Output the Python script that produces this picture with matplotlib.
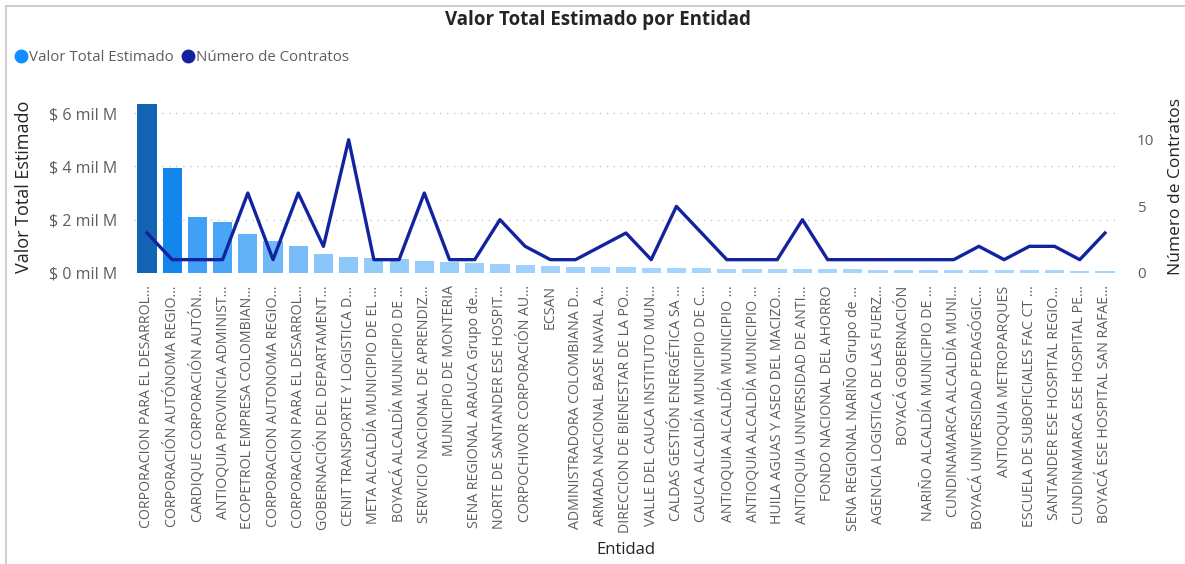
import numpy as np
import matplotlib
matplotlib.use("Agg")
import matplotlib.pyplot as plt
from matplotlib.colors import LinearSegmentedColormap, Normalize
from matplotlib.lines import Line2D

plt.rcParams['font.family'] = ['Open Sans', 'DejaVu Sans']

entidades = [
    "CORPORACION PARA EL DESARROL...",
    "CORPORACIÓN AUTÓNOMA REGIO...",
    "CARDIQUE CORPORACIÓN AUTÓN...",
    "ANTIOQUIA PROVINCIA ADMINIST...",
    "ECOPETROL EMPRESA COLOMBIAN...",
    "CORPORACION AUTONOMA REGIO...",
    "CORPORACION PARA EL DESARROL...",
    "GOBERNACIÓN DEL DEPARTAMENT...",
    "CENIT TRANSPORTE Y LOGISTICA D...",
    "META ALCALDÍA MUNICIPIO DE EL ...",
    "BOYACÁ ALCALDÍA MUNICIPIO DE ...",
    "SERVICIO NACIONAL DE APRENDIZ...",
    "MUNICIPIO DE MONTERIA",
    "SENA REGIONAL ARAUCA Grupo de...",
    "NORTE DE SANTANDER ESE HOSPIT...",
    "CORPOCHIVOR CORPORACIÓN AU...",
    "ECSAN",
    "ADMINISTRADORA COLOMBIANA D...",
    "ARMADA NACIONAL BASE NAVAL A...",
    "DIRECCION DE BIENESTAR DE LA PO...",
    "VALLE DEL CAUCA INSTITUTO MUN...",
    "CALDAS GESTIÓN ENERGÉTICA SA ...",
    "CAUCA ALCALDÍA MUNICIPIO DE C...",
    "ANTIOQUIA ALCALDÍA MUNICIPIO ...",
    "ANTIOQUIA ALCALDÍA MUNICIPIO ...",
    "HUILA AGUAS Y ASEO DEL MACIZO...",
    "ANTIOQUIA UNIVERSIDAD DE ANTI...",
    "FONDO NACIONAL DEL AHORRO",
    "SENA REGIONAL NARIÑO Grupo de ...",
    "AGENCIA LOGISTICA DE LAS FUERZ...",
    "BOYACÁ GOBERNACIÓN",
    "NARIÑO ALCALDÍA MUNICIPIO DE ...",
    "CUNDINAMARCA ALCALDÍA MUNI...",
    "BOYACÁ UNIVERSIDAD PEDAGÓGIC...",
    "ANTIOQUIA METROPARQUES",
    "ESCUELA DE SUBOFICIALES FAC CT ...",
    "SANTANDER ESE HOSPITAL REGIO...",
    "CUNDINAMARCA ESE HOSPITAL PE...",
    "BOYACÁ ESE HOSPITAL SAN RAFAE...",
]

# valor total estimado, en miles de millones
valor = [6.33, 3.93, 2.11, 1.92, 1.45, 1.20, 1.02, 0.70, 0.61, 0.55,
         0.52, 0.46, 0.42, 0.36, 0.34, 0.30, 0.26, 0.24, 0.22, 0.21,
         0.19, 0.17, 0.17, 0.16, 0.16, 0.15, 0.15, 0.14, 0.14, 0.13,
         0.13, 0.12, 0.12, 0.11, 0.11, 0.10, 0.10, 0.09, 0.09]

contratos = [3, 1, 1, 1, 6, 1, 6, 2, 10, 1,
             1, 6, 1, 1, 4, 2, 1, 1, 2, 3,
             1, 5, 3, 1, 1, 1, 4, 1, 1, 1,
             1, 1, 1, 2, 1, 2, 2, 1, 3]

gris = "#605E5C"
oscuro = "#252423"
azul_linea = "#12239E"

fig = plt.figure(figsize=(11.85, 5.64), dpi=100)
ax = fig.add_axes([0.1134, 0.516, 0.8297, 0.307])

# degradado de color segun el valor (formato condicional)
cmap = LinearSegmentedColormap.from_list(
    "pbi", [(0.0, "#A9D6FD"), (0.33, "#3C9FF6"), (0.62, "#1186EC"), (1.0, "#1464B4")])
norm = Normalize(vmin=min(valor), vmax=max(valor))
colores = [cmap(norm(v)) for v in valor]

x = np.arange(len(entidades))
ax.bar(x, valor, width=0.76, color=colores, zorder=2)
ax.set_xlim(-0.5, len(entidades) - 0.5)
ax.set_ylim(0, 6.5)
ax.set_yticks([0, 2, 4, 6])
ax.set_yticklabels([f"$ {v} mil M" for v in [0, 2, 4, 6]])
ax.grid(axis='y', color="#C8C6C4", linestyle=(0, (1, 4)), linewidth=1, zorder=0)
ax.set_xticks(x)
ax.set_xticklabels(entidades, rotation=90, fontsize=10.2, color=gris)
ax.tick_params(axis='both', length=0)
ax.tick_params(axis='y', labelsize=11.5, labelcolor=gris, pad=12)
ax.tick_params(axis='x', pad=9)
for s in ax.spines.values():
    s.set_visible(False)
ax.set_ylabel("Valor Total Estimado", fontsize=13, color=oscuro, labelpad=12)
ax.set_xlabel("Entidad", fontsize=12, color=oscuro, labelpad=6)

ax2 = ax.twinx()
ax2.plot(x, contratos, color=azul_linea, linewidth=2.4, zorder=3)
ax2.set_ylim(0, 13)
ax2.set_yticks([0, 5, 10])
ax2.tick_params(axis='y', length=0, labelsize=11, labelcolor=gris, pad=14)
for s in ax2.spines.values():
    s.set_visible(False)
ax2.set_ylabel("Número de Contratos", fontsize=12.5, color=oscuro, labelpad=10)

fig.text(0.505, 0.965, "Valor Total Estimado por Entidad", ha='center', va='center',
         fontsize=13.5, fontweight='bold', color=oscuro)

handles = [Line2D([], [], marker='o', linestyle='', color="#118DFF", markersize=9),
           Line2D([], [], marker='o', linestyle='', color=azul_linea, markersize=9)]
fig.legend(handles, ["Valor Total Estimado", "Número de Contratos"], loc='center left',
           bbox_to_anchor=(0.0, 0.898), ncol=2, frameon=False, fontsize=10.8,
           labelcolor=gris, handletextpad=0.05, columnspacing=0.4, handlelength=1)

# marco del visual
fig.add_artist(Line2D([0.005, 0.005], [0, 0.99], color="#C8C6C4", linewidth=1.2))
fig.add_artist(Line2D([0.005, 1], [0.99, 0.99], color="#C8C6C4", linewidth=1.2))

fig.savefig("out.png", dpi=100)
